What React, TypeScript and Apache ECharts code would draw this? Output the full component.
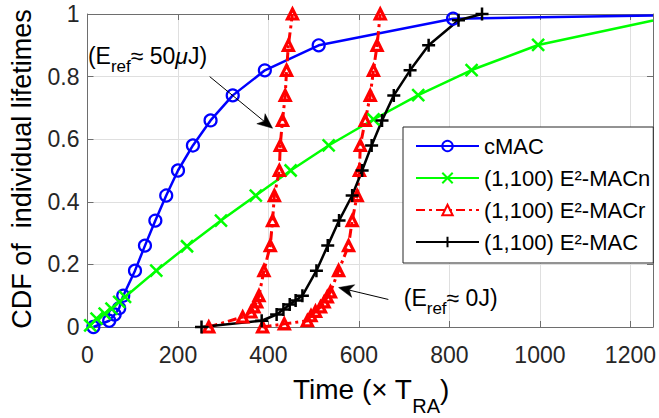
import React, { useEffect, useRef } from 'react';
import * as echarts from 'echarts';

const FONT = '"Liberation Sans", Arial, Helvetica, sans-serif';

const X_MIN = 0;
const X_MAX = 1250;
const X_STEP = 200;
const Y_MIN = 0;
const Y_MAX = 1;
const Y_STEP = 0.2;

const NAMES = ['cMAC', '(1,100) E²-MACn', '(1,100) E²-MACr', '(1,100) E²-MAC'];

// cMAC (blue, circles)
const cmac: number[][] = [
  [13, 0], [48, 0.02], [60, 0.04], [70, 0.06], [79, 0.1], [105, 0.18], [127, 0.26],
  [150, 0.34], [174, 0.42], [200, 0.5], [233, 0.58], [272, 0.66], [321, 0.74],
  [392, 0.82], [511, 0.9], [808, 0.985], [1250, 0.995],
];
// (1,100) E2-MACn (green, x)
const macn: number[][] = [
  [6, 0.005], [20, 0.027], [38, 0.043], [53, 0.059], [70, 0.08], [83, 0.096],
  [152, 0.18], [220, 0.258], [295, 0.34], [372, 0.42], [449, 0.5], [533, 0.58],
  [632, 0.663], [731, 0.741], [849, 0.821], [996, 0.901], [1250, 0.979],
];
// (1,100) E2-MACr, Eref ~ 50uJ (red, triangles)
const macrHigh: number[][] = [
  [268, 0], [343, 0.032], [361, 0.048], [368, 0.064], [374, 0.08], [379, 0.1],
  [390, 0.18], [404, 0.26], [409, 0.34], [413, 0.42], [424, 0.5], [426, 0.58],
  [431, 0.66], [437, 0.74], [440, 0.82], [444, 0.9], [453, 1.0],
];
// (1,100) E2-MACr, Eref ~ 0J (red, triangles)
const macrZero: number[][] = [
  [387, 0], [435, 0.01], [486, 0.02], [494, 0.036], [504, 0.05], [515, 0.064],
  [523, 0.08], [530, 0.096], [537, 0.112], [555, 0.18], [577, 0.26], [585, 0.34],
  [596, 0.42], [601, 0.5], [603, 0.58], [614, 0.66], [625, 0.74], [632, 0.82],
  [640, 0.9], [647, 1.0],
];
// (1,100) E2-MAC (black, +)
const mac: number[][] = [
  [252, 0], [385, 0.02], [418, 0.04], [433, 0.056], [447, 0.072], [460, 0.085],
  [475, 0.1], [506, 0.18], [531, 0.26], [556, 0.34], [585, 0.42], [607, 0.5],
  [628, 0.58], [651, 0.66], [677, 0.74], [713, 0.82], [754, 0.9], [820, 0.98],
  [872, 1.0],
];

// annotation anchors in data coordinates
const ann1Text = [1, 0.865];
const ann1Tail = [270, 0.8];
const ann1Tip = [409, 0.635];
const ann2Text = [699, 0.093];
const ann2Tail = [665, 0.088];
const ann2Tip = [555, 0.126];

const AX = '#6e6e6e';
const TXT = '#262626';
const TRANSPARENT = 'rgba(0,0,0,0)';

const withHiddenLast = (pts: number[][]) =>
  pts.map((p, i) => (i === pts.length - 1 ? { value: p, symbol: 'none' } : p));

const xAxisBase = {
  type: 'value', min: X_MIN, max: X_MAX, interval: X_STEP,
  axisLine: { show: true, onZero: false, lineStyle: { color: AX, width: 1 } },
  axisTick: { show: true, inside: true, length: 6, lineStyle: { color: AX } },
};
const yAxisBase = {
  type: 'value', min: Y_MIN, max: Y_MAX, interval: Y_STEP,
  axisLine: { show: true, onZero: false, lineStyle: { color: AX, width: 1 } },
  axisTick: { show: true, inside: true, length: 6, lineStyle: { color: AX } },
};

const option: any = {
  animation: false,
  backgroundColor: '#ffffff',
  grid: { left: 87.5, right: 3, top: 14, bottom: 91 },
  xAxis: [
    {
      ...xAxisBase, position: 'bottom',
      axisLabel: { fontSize: 23, color: TXT, fontFamily: FONT, margin: 16, formatter: (v: number) => String(v) },
      splitLine: { show: true, lineStyle: { color: '#dfdfdf', width: 1 } },
    },
    { ...xAxisBase, position: 'top', axisLabel: { show: false }, splitLine: { show: false } },
  ],
  yAxis: [
    {
      ...yAxisBase, position: 'left',
      axisLabel: { fontSize: 23, color: TXT, fontFamily: FONT, margin: 8, formatter: (v: number) => String(+v.toFixed(1)) },
      splitLine: { show: true, lineStyle: { color: '#dfdfdf', width: 1 } },
    },
    { ...yAxisBase, position: 'right', axisLabel: { show: false }, splitLine: { show: false } },
  ],
  legend: {
    orient: 'vertical', left: 403, top: 127,
    padding: [8, 3, 10, 12], itemGap: 10, itemWidth: 63, itemHeight: 13,
    borderColor: TXT, borderWidth: 1, backgroundColor: '#ffffff',
    textStyle: { fontSize: 22, fontFamily: FONT, color: '#000' },
    data: NAMES,
  },
  series: [
    {
      name: NAMES[0], type: 'line', data: withHiddenLast(cmac), clip: false,
      symbol: 'circle', symbolSize: 12,
      lineStyle: { color: '#0000ff', width: 2.5 },
      itemStyle: { color: TRANSPARENT, borderColor: '#0000ff', borderWidth: 2.2 },
    },
    {
      name: NAMES[1], type: 'line', data: withHiddenLast(macn), clip: false,
      symbol: 'path://M0,0L10,10M10,0L0,10', symbolSize: 12,
      lineStyle: { color: '#00ff00', width: 2.5 },
      itemStyle: { color: TRANSPARENT, borderColor: '#00ff00', borderWidth: 2.5 },
    },
    {
      name: NAMES[2], type: 'line', data: macrHigh, clip: false,
      symbol: 'triangle', symbolSize: 10,
      lineStyle: { color: '#ff0000', width: 3, type: [9, 4, 3, 4] },
      itemStyle: { color: TRANSPARENT, borderColor: '#ff0000', borderWidth: 3.2 },
    },
    {
      name: NAMES[2], type: 'line', data: macrZero, clip: false,
      symbol: 'triangle', symbolSize: 10,
      lineStyle: { color: '#ff0000', width: 3, type: [9, 4, 3, 4] },
      itemStyle: { color: TRANSPARENT, borderColor: '#ff0000', borderWidth: 3.2 },
    },
    {
      name: NAMES[3], type: 'line', data: mac, clip: false,
      symbol: 'path://M5,0L5,10M0,5L10,5', symbolSize: 13,
      lineStyle: { color: '#000000', width: 2.5 },
      itemStyle: { color: TRANSPARENT, borderColor: '#000000', borderWidth: 2.5 },
    },
  ],
};

function arrow(s: number[], t: number[]) {
  const dx = t[0] - s[0];
  const dy = t[1] - s[1];
  const len = Math.hypot(dx, dy);
  const ux = dx / len, uy = dy / len;
  const nx = -uy, ny = ux;
  const L = 15, W = 6.5, notch = 4;
  const back = [t[0] - ux * L, t[1] - uy * L];
  const mid = [t[0] - ux * (L - notch), t[1] - uy * (L - notch)];
  return [
    { type: 'line', shape: { x1: s[0], y1: s[1], x2: mid[0], y2: mid[1] }, style: { stroke: '#000', lineWidth: 1 } },
    {
      type: 'polygon',
      shape: { points: [t, [back[0] + nx * W, back[1] + ny * W], mid, [back[0] - nx * W, back[1] - ny * W]] },
      style: { fill: '#000', stroke: '#000', lineWidth: 0.5 },
    },
  ];
}

const annRich = {
  b: { fontSize: 23, lineHeight: 38, fontFamily: FONT, fill: '#000' },
  s: { fontSize: 17, lineHeight: 15, fontFamily: FONT, fill: '#000', verticalAlign: 'bottom' },
  m: { fontSize: 23, lineHeight: 38, fontFamily: FONT, fontStyle: 'italic', fill: '#000' },
};

export default function App() {
  const ref = useRef<HTMLDivElement>(null);
  useEffect(() => {
    const chart = echarts.init(ref.current!, null, { renderer: 'svg' });
    chart.setOption(option);
    const px = (v: number[]) => chart.convertToPixel({ seriesIndex: 0 }, v) as number[];
    const t1 = px(ann1Text);
    const t2 = px(ann2Text);
    const graphic: any[] = [
      {
        type: 'text', x: t1[0], y: t1[1], z: 100,
        style: { text: '{b|(E}{s|ref}{b|≈ 50}{m|μ}{b|J)}', rich: annRich, align: 'left', verticalAlign: 'middle' },
      },
      {
        type: 'text', x: t2[0], y: t2[1], z: 100,
        style: { text: '{b|(E}{s|ref}{b|≈ 0J)}', rich: annRich, align: 'left', verticalAlign: 'middle' },
      },
      ...arrow(px(ann1Tail), px(ann1Tip)).map((g) => ({ ...g, z: 100 })),
      ...arrow(px(ann2Tail), px(ann2Tip)).map((g) => ({ ...g, z: 100 })),
      {
        type: 'text', x: 371, y: 389, z: 100,
        style: {
          text: '{b|Time (× T}{s|RA}{b|)}', align: 'center', verticalAlign: 'middle',
          rich: {
            b: { fontSize: 28, lineHeight: 54, fontFamily: FONT, fill: '#000' },
            s: { fontSize: 20, lineHeight: 18, fontFamily: FONT, fill: '#000', verticalAlign: 'bottom' },
          },
        },
      },
      {
        type: 'text', x: 22, y: 169, rotation: Math.PI / 2, z: 100,
        style: {
          text: 'CDF of  individual lifetimes', align: 'center', verticalAlign: 'middle',
          fontSize: 27, fontFamily: FONT, fill: '#000',
        },
      },
    ];
    chart.setOption({ graphic });
    return () => chart.dispose();
  }, []);
  return (
    <div
      ref={ref}
      style={{ position: 'fixed', left: 0, top: 0, width: 659, height: 418, background: '#fff' }}
    />
  );
}
